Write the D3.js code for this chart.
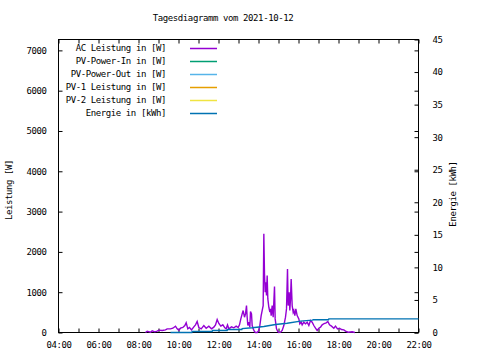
<!DOCTYPE html>
<html><head><meta charset="utf-8">
<script src="https://cdn.jsdelivr.net/npm/d3@7"></script>
<style>
html,body{margin:0;padding:0;background:#fff;}
text{font-family:"DejaVu Sans Mono","Liberation Mono",monospace;font-size:9px;letter-spacing:-0.4px;fill:#000;}
</style></head>
<body><svg id="c" width="480" height="360"></svg>
<script>
const title = "Tagesdiagramm vom 2021-10-12";
const xTickLabels = ["04:00","06:00","08:00","10:00","12:00","14:00","16:00","18:00","20:00","22:00"];
const yTicks = [0,1000,2000,3000,4000,5000,6000,7000];
const y2Ticks = [0,5,10,15,20,25,30,35,40,45];
const legendLabels = ["AC Leistung in [W]","PV-Power-In in [W]","PV-Power-Out in [W]","PV-1 Leistung in [W]","PV-2 Leistung in [W]","Energie in [kWh]"];
const legendColors = ["#9400d3","#009e73","#56b4e9","#e69f00","#f0e442","#0072b2"];

// AC Leistung [W]
const acTime = ["08:21","08:26","08:36","08:41","08:49","08:56","09:01","09:11","09:21","09:26","09:36","09:43","09:51","09:56","10:01","10:06","10:13","10:19","10:23","10:28","10:33","10:39","10:46","10:51","10:56","11:01","11:08","11:16","11:23","11:31","11:39","11:46","11:51","11:56","12:01","12:07","12:13","12:19","12:23","12:27","12:31","12:39","12:46","12:53","12:59","13:03","13:07","13:11","13:14","13:18","13:21","13:24","13:26","13:28","13:31","13:34","13:36","13:39","13:41","13:44","13:48","13:51","13:56","14:01","14:04","14:08","14:11","14:14","14:16","14:18","14:20","14:22","14:24","14:26","14:28","14:31","14:34","14:36","14:38","14:41","14:44","14:48","14:50","14:54","14:58","15:01","15:06","15:11","15:16","15:21","15:24","15:27","15:29","15:32","15:34","15:36","15:38","15:41","15:44","15:46","15:49","15:52","15:56","16:01","16:04","16:08","16:11","16:16","16:21","16:26","16:31","16:36","16:41","16:46","16:51","16:56","17:01","17:06","17:11","17:17","17:23","17:28","17:33","17:39","17:46","17:51","17:57","18:03","18:09","18:16","18:21","18:29","18:41","18:49"];
const acValue = [0,33,8,41,17,33,58,50,66,91,91,107,157,91,58,107,124,173,240,91,124,66,140,190,272,124,91,173,107,157,91,132,190,322,223,157,190,116,91,190,91,140,116,157,124,190,338,462,545,380,462,668,380,173,256,132,520,462,173,91,25,0,0,50,173,420,545,668,2450,1452,998,1246,916,1411,833,627,503,586,420,668,380,1138,338,91,25,0,8,50,173,380,586,1576,668,998,545,833,1328,668,503,545,420,586,420,338,214,256,190,256,214,256,173,297,256,173,107,50,107,132,190,223,240,272,190,157,107,157,91,107,74,66,33,8,17,0];

// Energie [kWh]
const enTime = ["09:36","10:40","10:41","11:41","11:42","12:26","12:27","13:10","13:11","13:41","14:16","14:51","15:26","16:06","16:41","16:45","17:30","17:31","22:00"];
const enValue = [0,0,0.15,0.15,0.3,0.3,0.45,0.45,0.6,0.72,0.92,1.23,1.43,1.74,1.9,1.95,1.95,2.1,2.1];

const svg = d3.select("#c");
const L=58.5, R=418.5, T=39.5, B=332.5;
const parseT = s => { const [h,m]=s.split(":").map(Number); return h+m/60; };
const x = d3.scaleLinear().domain([4,22]).range([L,R]);
const y = d3.scaleLinear().domain([0,7270]).range([B,T]);
const y2 = d3.scaleLinear().domain([0,45]).range([B,T]);

svg.append("text").attr("x",223).attr("y",21).attr("text-anchor","middle").text(title);

svg.append("rect").attr("x",L).attr("y",T).attr("width",R-L).attr("height",B-T)
  .attr("fill","none").attr("stroke","#000").attr("stroke-width",1);

const hours = d3.range(4,23,1);
const tk = 4;
const gx = svg.append("g").attr("transform",`translate(0,${B})`)
  .call(d3.axisBottom(x).tickValues(hours).tickSize(-tk).tickSizeOuter(0)
    .tickFormat(d => d%2===0 ? xTickLabels[(d-4)/2] : ""));
gx.select(".domain").remove();
gx.selectAll("text").attr("dy",null).attr("y",15).style("font-size","9px");
const gxt = svg.append("g").attr("transform",`translate(0,${T})`)
  .call(d3.axisTop(x).tickValues(hours).tickSize(-tk).tickFormat(""));
gxt.select(".domain").remove();

const gy = svg.append("g").attr("transform",`translate(${L},0)`)
  .call(d3.axisLeft(y).tickValues(yTicks).tickSize(-tk).tickPadding(12).tickFormat(d3.format("d")));
gy.select(".domain").remove();
gy.selectAll("text").style("font-size","9px");
const gym = svg.append("g").attr("transform",`translate(${R},0)`)
  .call(d3.axisRight(y).tickValues(yTicks).tickSize(-tk).tickFormat(""));
gym.select(".domain").remove();
const gy2 = svg.append("g").attr("transform",`translate(${R},0)`)
  .call(d3.axisRight(y2).tickValues(y2Ticks).tickSize(-tk).tickPadding(14).tickFormat(d3.format("d")));
gy2.select(".domain").remove();
gy2.selectAll("text").style("font-size","9px");
svg.selectAll(".tick line").attr("stroke","#000");

svg.append("text").attr("transform","translate(12,190) rotate(-90)").attr("text-anchor","middle").text("Leistung [W]");
svg.append("text").attr("transform","translate(456,194) rotate(-90)").attr("text-anchor","middle").text("Energie [kWh]");

legendLabels.forEach((lab,i)=>{
  const yy = 48 + i*13;
  svg.append("text").attr("x",166).attr("y",yy+3).attr("text-anchor","end").text(lab);
  svg.append("line").attr("x1",190).attr("x2",217).attr("y1",yy+0.5).attr("y2",yy+0.5)
    .attr("stroke",legendColors[i]).attr("stroke-width",1.5);
});

const acData = acTime.map((t,i)=>({t:parseT(t),v:acValue[i]}));
svg.append("path").datum(acData)
  .attr("d",d3.line().x(d=>x(d.t)).y(d=>y(d.v)))
  .attr("fill","none").attr("stroke",legendColors[0]).attr("stroke-width",1.4);

const enData = enTime.map((t,i)=>({t:parseT(t),v:enValue[i]}));
svg.append("path").datum(enData)
  .attr("d",d3.line().x(d=>x(d.t)).y(d=>y2(d.v)))
  .attr("fill","none").attr("stroke",legendColors[5]).attr("stroke-width",1.4);
</script></body></html>
